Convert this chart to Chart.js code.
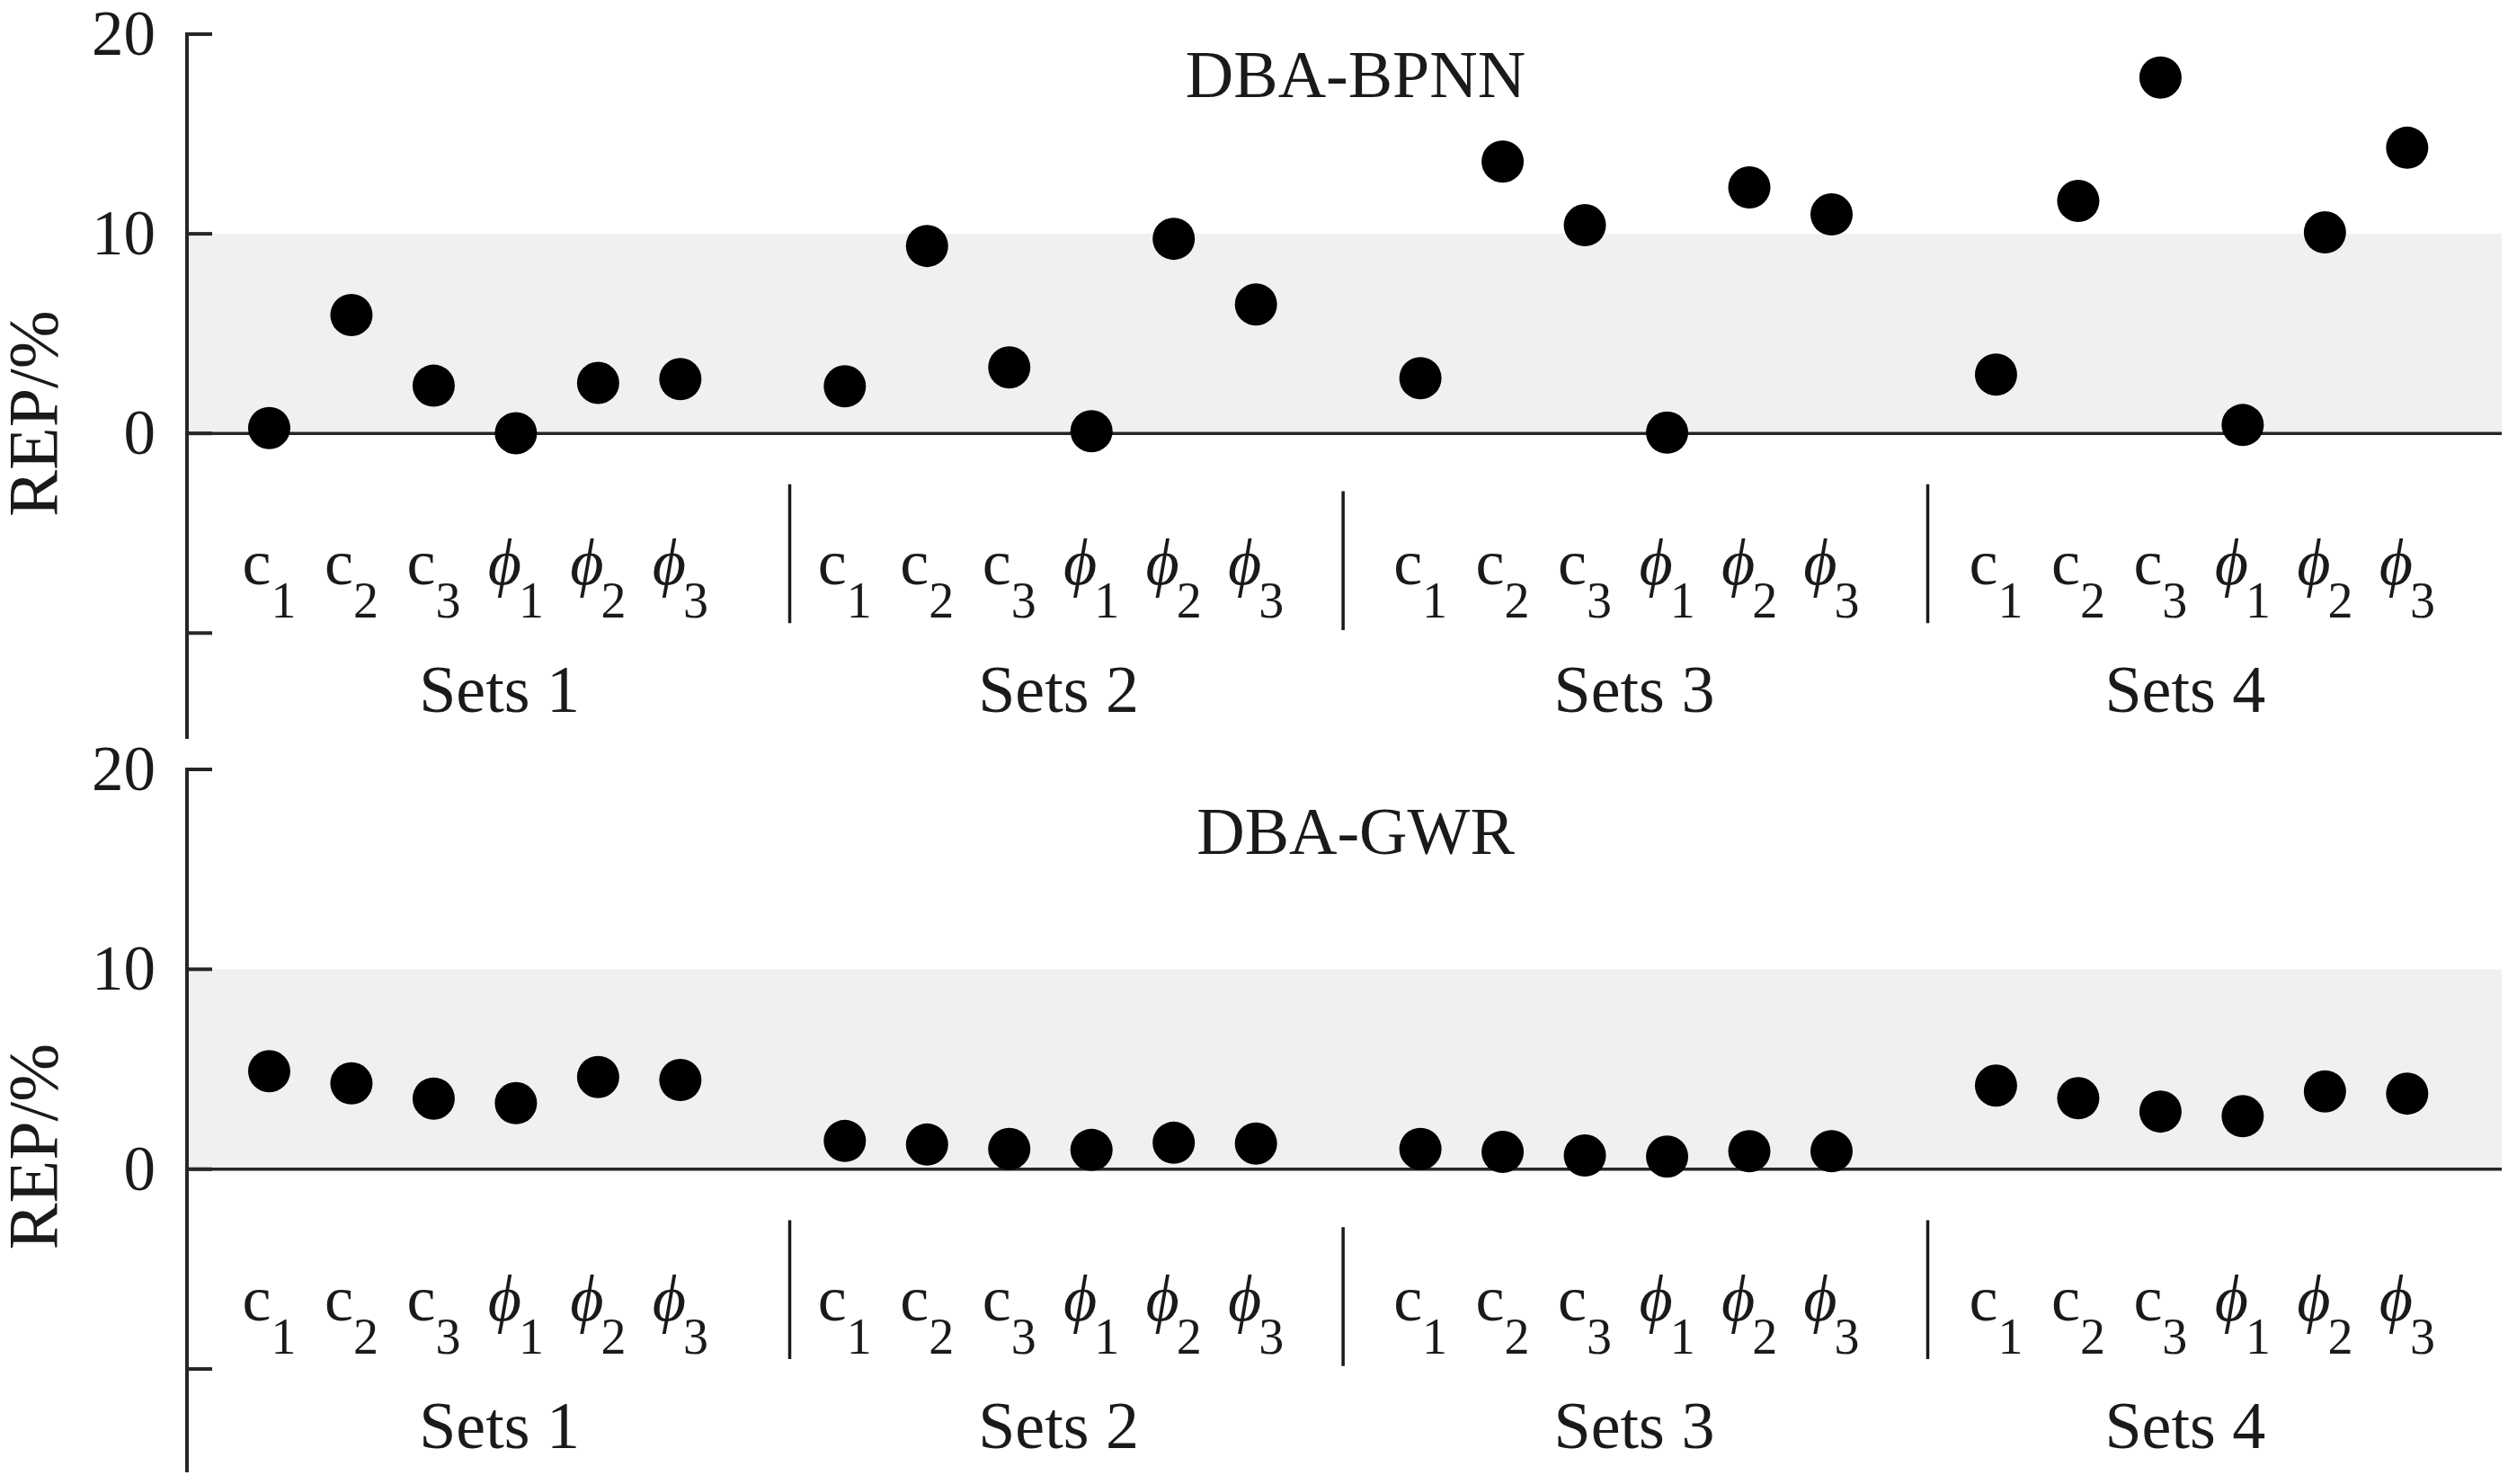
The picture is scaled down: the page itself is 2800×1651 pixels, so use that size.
<!DOCTYPE html>
<html>
<head>
<meta charset="utf-8">
<script src="https://cdn.jsdelivr.net/npm/chart.js@4.4.1/dist/chart.umd.min.js"></script>
<style>
  html, body { margin: 0; padding: 0; background: #fff; }
  #wrap { position: relative; width: 2800px; height: 1651px; background: #fff; }
  canvas { position: absolute; left: 0; }
</style>
</head>
<body>
<div id="wrap">
  <canvas id="c1" width="2800" height="830" style="top:0px"></canvas>
  <canvas id="c2" width="2800" height="821" style="top:830px"></canvas>
</div>
<script>
// ---------- data ----------
const xPositions = [1,2,3,4,5,6, 8,9,10,11,12,13, 15,16,17,18,19,20, 22,23,24,25,26,27];
const paramSymbols = ['c','c','c','\u03D5','\u03D5','\u03D5', 'c','c','c','\u03D5','\u03D5','\u03D5',
                      'c','c','c','\u03D5','\u03D5','\u03D5', 'c','c','c','\u03D5','\u03D5','\u03D5'];
const paramSubscripts = ['1','2','3','1','2','3', '1','2','3','1','2','3',
                         '1','2','3','1','2','3', '1','2','3','1','2','3'];
const setLabels = ['Sets 1','Sets 2','Sets 3','Sets 4'];
const setLabelX = [3.8, 10.6, 17.6, 24.3];
const separatorX = [7.33, 14.06, 21.17];
const separatorTop = [-2.55, -2.9, -2.55];
const separatorBottom = [-9.5, -9.85, -9.5];
const bpnnValues = [0.27,5.93,2.39,0.01,2.53,2.72,
                    2.36,9.39,3.31,0.11,9.75,6.46,
                    2.77,13.62,10.43,0.04,12.32,10.97,
                    2.95,11.65,17.83,0.42,10.07,14.31];
const gwrValues  = [4.90,4.29,3.53,3.30,4.61,4.46,
                    1.41,1.23,1.01,0.96,1.32,1.28,
                    1.01,0.86,0.68,0.63,0.90,0.90,
                    4.18,3.55,2.88,2.65,3.89,3.78];
const yTickValues = [20, 10, 0, -10];
const yTickLabels = ['20', '10', '0', ''];
const bandRange = [0, 10];
const xRange = [0, 28.15];
const panelTitles = ['DBA-BPNN', 'DBA-GWR'];
const yAxisTitle = 'REP/%';

// ---------- styling ----------
const SERIF = '"Liberation Serif", "Times New Roman", "DejaVu Serif", serif';
const INK = '#1a1a1a';

const decorPlugin = {
  id: 'decor',
  beforeDatasetDraw(chart, args, o) {
    if (args.index !== 0) return;
    const ctx = chart.ctx;
    const xs = chart.scales.x, ys = chart.scales.y;
    const area = chart.chartArea;
    const x0 = xs.getPixelForValue(0);
    const y0 = ys.getPixelForValue(0);
    ctx.save();
    ctx.strokeStyle = '#262626';
    ctx.lineWidth = 4;
    ctx.lineCap = 'butt';
    // y axis line
    ctx.beginPath();
    ctx.moveTo(x0, ys.getPixelForValue(yTickValues[0]) - 2);
    ctx.lineTo(x0, area.bottom);
    ctx.stroke();
    // zero line
    ctx.lineWidth = 3.5;
    ctx.beginPath();
    ctx.moveTo(x0, y0);
    ctx.lineTo(xs.getPixelForValue(xRange[1]), y0);
    ctx.stroke();
    // inward ticks
    ctx.lineWidth = 4;
    yTickValues.forEach(v => {
      const yy = ys.getPixelForValue(v);
      ctx.beginPath();
      ctx.moveTo(x0, yy);
      ctx.lineTo(x0 + 28, yy);
      ctx.stroke();
    });
    // tick labels
    ctx.fillStyle = INK;
    ctx.font = '71px ' + SERIF;
    ctx.textAlign = 'right';
    ctx.textBaseline = 'alphabetic';
    yTickValues.forEach((v, i) => {
      const yy = ys.getPixelForValue(v);
      ctx.fillText(yTickLabels[i], x0 - 35, yy + 23);
    });
    // y axis title
    ctx.save();
    ctx.translate(38 + 25, y0 + o.yTitleOffset);
    ctx.rotate(-Math.PI / 2);
    ctx.font = '78px ' + SERIF;
    ctx.textAlign = 'center';
    ctx.textBaseline = 'alphabetic';
    ctx.fillText(yAxisTitle, 0, 0);
    ctx.restore();
    // panel title
    ctx.font = '74px ' + SERIF;
    ctx.textAlign = 'center';
    ctx.fillText(o.title, o.titleX, o.titleBaseline);
    // category labels with subscripts
    ctx.textAlign = 'left';
    xPositions.forEach((xv, i) => {
      const cx = xs.getPixelForValue(xv);
      const sym = paramSymbols[i];
      const mainFont = (sym === 'c' ? '' : 'italic ') + '72px ' + SERIF;
      ctx.font = mainFont;
      const w1 = ctx.measureText(sym).width;
      ctx.font = '56px ' + SERIF;
      const w2 = ctx.measureText(paramSubscripts[i]).width;
      const gap = sym === 'c' ? 0 : -3;
      const start = cx - (w1 + gap + w2) / 2;
      ctx.font = mainFont;
      ctx.fillText(sym, start, y0 + 168);
      ctx.font = '56px ' + SERIF;
      ctx.fillText(paramSubscripts[i], start + w1 + gap, y0 + 205);
    });
    // set labels
    ctx.font = '74px ' + SERIF;
    ctx.textAlign = 'center';
    setLabels.forEach((s, i) => {
      ctx.fillText(s, xs.getPixelForValue(setLabelX[i]), y0 + 310);
    });
    ctx.restore();
  }
};

function makePanel(canvasId, values, yMin, padding, opts) {
  const datasets = [];
  datasets.push({
    type: 'scatter',
    data: xPositions.map((x, i) => ({ x: x, y: values[i] })),
    backgroundColor: '#000',
    borderWidth: 0,
    pointRadius: 23.5,
    pointHoverRadius: 23.5,
    pointStyle: 'circle',
    order: 0,
    clip: false
  });
  separatorX.forEach((sx, i) => {
    datasets.push({
      type: 'line',
      data: [{ x: sx, y: separatorTop[i] }, { x: sx, y: separatorBottom[i] }],
      borderColor: '#1a1a1a',
      borderWidth: 3.5,
      pointRadius: 0,
      fill: false,
      order: 1,
      clip: false
    });
  });
  datasets.push({
    type: 'line',
    data: [{ x: xRange[0], y: bandRange[1] }, { x: xRange[1], y: bandRange[1] }],
    borderColor: 'rgba(0,0,0,0)',
    borderWidth: 0,
    backgroundColor: '#f0f0f0',
    pointRadius: 0,
    fill: { value: bandRange[0] },
    order: 3
  });
  return new Chart(document.getElementById(canvasId), {
    type: 'scatter',
    data: { datasets: datasets },
    options: {
      responsive: false,
      animation: false,
      devicePixelRatio: 1,
      events: [],
      layout: { padding: padding, autoPadding: false },
      scales: {
        x: { type: 'linear', min: xRange[0], max: xRange[1], display: false },
        y: { type: 'linear', min: yMin, max: yTickValues[0], display: false }
      },
      plugins: {
        legend: { display: false },
        tooltip: { enabled: false },
        decor: opts
      }
    },
    plugins: [decorPlugin]
  });
}

makePanel('c1', bpnnValues, -15.3, { left: 208, right: 17, top: 38, bottom: 8 },
  { title: panelTitles[0], titleX: 1508, titleBaseline: 108, yTitleOffset: -22 });
makePanel('c2', gwrValues, -15.17, { left: 208, right: 17, top: 26, bottom: 13 },
  { title: panelTitles[1], titleX: 1508, titleBaseline: 120, yTitleOffset: -25 });
</script>
</body>
</html>
